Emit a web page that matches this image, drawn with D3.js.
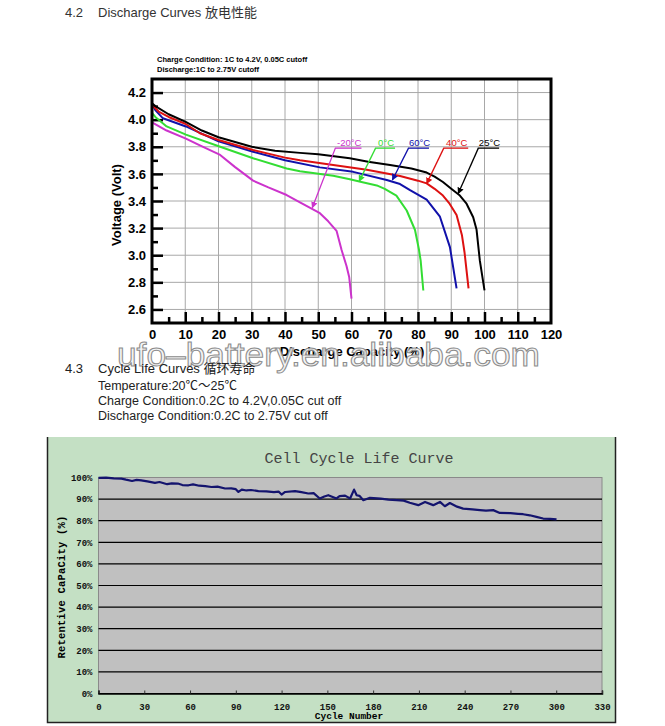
<!DOCTYPE html>
<html>
<head>
<meta charset="utf-8">
<script src="https://d3js.org/d3.v7.min.js"></script>
<style>
  body { margin: 0; background: #fff; }
</style>
</head>
<body>
<div id="viz"></div>
<script>
// ---- discharge curves: [capacity %, voltage V]
var curve25 = [[0,4.12],[1,4.10],[5,4.04],[10,3.985],[15,3.92],[20,3.87],[30,3.80],[37,3.77],[44.5,3.755],[50,3.745],[59.5,3.715],[65,3.69],[71.6,3.665],[78,3.64],[82.6,3.61],[85,3.58],[87.5,3.54],[90,3.49],[92.6,3.44],[94.6,3.38],[96.6,3.28],[97.6,3.19],[98.6,2.96],[100,2.74]];
var curve40 = [[0,4.11],[2,4.06],[5,4.02],[10,3.97],[14.4,3.90],[20,3.85],[30.4,3.776],[40,3.72],[44.5,3.70],[54.5,3.665],[64.6,3.63],[74.6,3.585],[80,3.55],[82.6,3.53],[85,3.49],[87.5,3.44],[89.5,3.38],[91.6,3.296],[93.2,3.15],[94,3.02],[95.2,2.755]];
var curve60 = [[0,4.12],[1,4.07],[3.3,4.01],[10.2,3.95],[20,3.84],[30.4,3.763],[40,3.70],[50.5,3.648],[60.5,3.615],[70.6,3.555],[74.6,3.525],[77.6,3.48],[82.6,3.41],[86.6,3.284],[89.6,3.06],[91.6,2.756]];
var curve0 = [[0,4.05],[1,4.02],[4.4,3.95],[10.2,3.89],[20.5,3.80],[30.4,3.715],[40.5,3.64],[44.5,3.62],[54.5,3.586],[59.5,3.56],[63,3.54],[67.6,3.515],[70,3.49],[73.5,3.44],[76.6,3.33],[79.1,3.186],[80.3,3.04],[80.8,2.96],[81.6,2.74]];
var curveM20 = [[0,3.98],[4.4,3.92],[10.2,3.86],[14.4,3.81],[20.5,3.74],[25,3.65],[30.4,3.55],[35,3.50],[40.5,3.444],[44.5,3.39],[50.5,3.31],[53,3.25],[55.5,3.18],[57,3.04],[58.5,2.92],[59.3,2.84],[60,2.68]];

var tempLabels = ["-20°C", "0°C", "60°C", "40°C", "25°C"];
var tempColors = ["#cc33cc", "#33dd33", "#1111aa", "#dd1111", "#000000"];
var tempCurves = [curveM20, curve0, curve60, curve40, curve25];
// label underline span [x0, x1] and arrow tip [x, y] in data units
var labelSpan = [[55, 63], [67.1, 73.1], [77, 83.3], [87.6, 95.1], [98, 104.4]];
var arrowTip = [[48.2, 3.35], [62.3, 3.545], [72.3, 3.555], [82.6, 3.528], [92.1, 3.455]];
var labelY = 3.79;

var voltTicks = [2.6, 2.8, 3.0, 3.2, 3.4, 3.6, 3.8, 4.0, 4.2];
var capTicks = [0, 10, 20, 30, 40, 50, 60, 70, 80, 90, 100, 110, 120];

// ---- cycle life curve
var cycles = [0,5,10,15,18,22,25,28,32,37,40,45,48,52,55,59,62,66,70,74,78,83,87,90,91.7,93.9,97,100,104.8,110,115,118,120,122.3,128.8,133,137.5,141,145,148,150.6,156,158,161.6,164.9,167.5,169.2,171,173.6,177.9,185,190,195.4,200,204,209.6,214,219.4,223.8,227,230.3,235,239,245,250,254,258.7,263,270,275,278.3,282.7,287,291.4,296,300.2];
var retention = [99.8,99.9,99.6,99.5,99.0,98.4,98.9,98.7,98.2,97.5,97.9,96.9,97.3,97.2,96.5,96.4,96.8,96.2,96.0,95.6,95.8,94.9,95.0,94.6,93.3,94.4,94.0,94.2,93.7,93.6,93.2,93.5,92.1,93.3,93.7,93.2,92.6,92.8,90.3,91.2,91.8,90.3,91.4,91.6,90.3,94.4,91.8,91.5,89.5,90.6,90.2,89.8,89.5,89.3,88.3,87.2,88.7,87.2,88.7,86.7,88.2,86.5,85.6,85.2,84.9,84.7,84.9,83.6,83.5,83.2,83.0,82.5,81.8,81.0,80.8,80.6];
var cycleTicks = [0, 30, 60, 90, 120, 150, 180, 210, 240, 270, 300, 330];
var pctTicks = [0, 10, 20, 30, 40, 50, 60, 70, 80, 90, 100];

var sans = "Liberation Sans, Arial, Noto Sans CJK SC, sans-serif";
var mono = "Liberation Mono, Courier New, monospace";

var svg = d3.select("#viz").append("svg")
    .attr("width", 665)
    .attr("height", 726)
    .attr("font-family", sans);

// headings
svg.append("text").attr("x", 65).attr("y", 17).attr("font-size", 13).attr("fill", "#333")
    .text("4.2");
svg.append("text").attr("x", 98).attr("y", 17).attr("font-size", 13).attr("fill", "#333")
    .text("Discharge Curves 放电性能");
svg.append("text").attr("x", 157).attr("y", 62).attr("font-size", 7.5).attr("font-weight", "bold")
    .text("Charge Condition: 1C to 4.2V, 0.05C cutoff");
svg.append("text").attr("x", 157).attr("y", 72).attr("font-size", 7.5).attr("font-weight", "bold")
    .text("Discharge:1C to 2.75V cutoff");

// ---------- discharge chart
var x = d3.scaleLinear().domain([0, 120]).range([152, 551]);
var y = d3.scaleLinear().domain([2.5, 4.3]).range([323, 79]);

var chart1 = svg.append("g");
var grid = chart1.append("g").attr("stroke", "#a8a8a8").attr("stroke-width", 1);
grid.selectAll("line.v").data(d3.range(10, 120, 10)).enter().append("line")
    .attr("x1", d => x(d)).attr("x2", d => x(d)).attr("y1", y(4.3)).attr("y2", y(2.5));
grid.selectAll("line.h").data(voltTicks).enter().append("line")
    .attr("y1", d => y(d)).attr("y2", d => y(d)).attr("x1", x(0)).attr("x2", x(120));

// left axis, ticks pointing inwards
chart1.append("g").attr("transform", "translate(" + x(0) + ",0)")
    .call(d3.axisLeft(y).tickValues(voltTicks).tickSize(-11).tickPadding(6).tickFormat(d3.format(".1f")));
chart1.append("g").attr("transform", "translate(" + x(0) + ",0)")
    .call(d3.axisLeft(y).tickValues(d3.range(2.7, 4.2, 0.2)).tickSize(-6).tickFormat(""));
chart1.append("g").attr("transform", "translate(0," + y(2.5) + ")")
    .call(d3.axisBottom(x).tickValues(capTicks.slice(1, -1)).tickSize(-11).tickPadding(7));
chart1.append("g").attr("transform", "translate(0," + y(2.5) + ")")
    .call(d3.axisBottom(x).tickValues(d3.range(5, 120, 10)).tickSize(-6).tickFormat(""));
chart1.append("g").attr("transform", "translate(0," + y(2.5) + ")")
    .call(d3.axisBottom(x).tickValues([0, 120]).tickSize(0).tickPadding(7));
chart1.selectAll(".domain").remove();
chart1.selectAll(".tick line").attr("stroke", "#000").attr("stroke-width", 2.5);
chart1.selectAll(".tick text").attr("font-size", 13).attr("font-weight", "bold")
    .attr("font-family", sans).attr("fill", "#000");

// curves
var line = d3.line().x(d => x(d[0])).y(d => y(d[1]));
chart1.append("g").selectAll("path").data(tempCurves).enter().append("path")
    .attr("d", line).attr("fill", "none")
    .attr("stroke", (d, i) => tempColors[i]).attr("stroke-width", 2)
    .attr("stroke-linejoin", "round");

// frame
chart1.append("rect").attr("x", x(0)).attr("y", y(4.3))
    .attr("width", x(120) - x(0)).attr("height", y(2.5) - y(4.3))
    .attr("fill", "none").attr("stroke", "#000").attr("stroke-width", 3);

// labels with arrows
var defs = svg.append("defs");
tempColors.forEach(function (c, i) {
    defs.append("marker").attr("id", "arr" + i).attr("viewBox", "0 0 10 10")
        .attr("refX", 9).attr("refY", 5).attr("markerWidth", 5).attr("markerHeight", 5)
        .attr("orient", "auto")
        .append("path").attr("d", "M0,0L10,5L0,10z").attr("fill", c);
});
var lab = chart1.append("g").selectAll("g").data(tempLabels).enter().append("g");
lab.append("line")
    .attr("x1", (d, i) => x(labelSpan[i][0])).attr("x2", (d, i) => x(labelSpan[i][1]))
    .attr("y1", y(labelY)).attr("y2", y(labelY))
    .attr("stroke", (d, i) => tempColors[i]).attr("stroke-width", 1.3);
lab.append("line")
    .attr("x1", (d, i) => x(labelSpan[i][0]) + 0.5).attr("y1", y(labelY))
    .attr("x2", (d, i) => x(arrowTip[i][0])).attr("y2", (d, i) => y(arrowTip[i][1]))
    .attr("stroke", (d, i) => tempColors[i]).attr("stroke-width", 1.3)
    .attr("marker-end", (d, i) => "url(#arr" + i + ")");
lab.append("text")
    .attr("x", (d, i) => (x(labelSpan[i][0]) + x(labelSpan[i][1])) / 2 + 1)
    .attr("y", y(labelY) - 2.5)
    .attr("text-anchor", "middle").attr("font-size", 9.5)
    .attr("fill", (d, i) => tempColors[i]).text(d => d);

// axis titles
chart1.append("text").attr("transform", "translate(121,205) rotate(-90)")
    .attr("text-anchor", "middle").attr("font-size", 13).attr("font-weight", "bold")
    .text("Voltage (Volt)");
chart1.append("text").attr("x", 352).attr("y", 356)
    .attr("text-anchor", "middle").attr("font-size", 13).attr("font-weight", "bold")
    .text("Discharge Capacity (%)");

// watermark
svg.append("text").attr("x", 117).attr("y", 366)
    .attr("font-size", 33).attr("textLength", 423).attr("lengthAdjust", "spacingAndGlyphs")
    .attr("fill", "#f2f2f2").attr("fill-opacity", 0.85).attr("stroke", "#8c8c8c").attr("stroke-width", 1)
    .text("ufo–battery.en.alibaba.com");

// section 4.3 text
var para = [["4.3", 65, 373, 13], ["Cycle Life Curves 循环寿命", 98, 373, 13],
    ["Temperature:20℃～25℃", 98, 390, 12.5],
    ["Charge Condition:0.2C to 4.2V,0.05C cut off", 98, 405, 12.5],
    ["Discharge Condition:0.2C to 2.75V cut off", 98, 420, 12.5]];
svg.append("g").selectAll("text").data(para).enter().append("text")
    .attr("x", d => d[1]).attr("y", d => d[2]).attr("font-size", d => d[3])
    .attr("fill", "#222").text(d => d[0]);

// ---------- cycle life chart
var panel = svg.append("g").attr("font-family", mono);
panel.append("rect").attr("x", 47).attr("y", 437).attr("width", 569).attr("height", 286)
    .attr("fill", "#c4e0c4");
panel.append("path").attr("d", "M47.5,437V722.5H615.5V437")
    .attr("fill", "none").attr("stroke", "#222").attr("stroke-width", 1.5);

var cx = d3.scaleLinear().domain([0, 330]).range([98.5, 602]);
var cy = d3.scaleLinear().domain([0, 100]).range([693.5, 477.5]);

panel.append("rect").attr("x", cx(0)).attr("y", cy(100))
    .attr("width", cx(330) - cx(0)).attr("height", cy(0) - cy(100))
    .attr("fill", "#c0c0c0").attr("stroke", "#8a8a8a").attr("stroke-width", 1);
panel.append("g").selectAll("line").data(pctTicks.slice(0, -1)).enter().append("line")
    .attr("x1", cx(0)).attr("x2", cx(330)).attr("y1", d => cy(d)).attr("y2", d => cy(d))
    .attr("stroke", "#000").attr("stroke-width", 1.2);

var cxAxis = panel.append("g").attr("transform", "translate(0," + cy(0) + ")")
    .call(d3.axisBottom(cx).tickValues(cycleTicks).tickSize(-3).tickPadding(10));
var cyAxis = panel.append("g").attr("transform", "translate(" + cx(0) + ",0)")
    .call(d3.axisLeft(cy).tickValues(pctTicks).tickSize(0).tickPadding(6).tickFormat(d => d + "%"));
cxAxis.select(".domain").attr("stroke", "#000").attr("stroke-width", 1.5);
cyAxis.select(".domain").remove();
cxAxis.selectAll(".tick line").attr("stroke", "#333");
panel.selectAll(".tick text").attr("font-family", mono)
    .attr("font-weight", "bold").attr("font-size", 9).attr("fill", "#111");

var cline = d3.line().x((d, i) => cx(cycles[i])).y(d => cy(d));
panel.append("path").datum(retention).attr("d", cline).attr("fill", "none")
    .attr("stroke", "#14146e").attr("stroke-width", 2.2).attr("stroke-linejoin", "round");

panel.append("text").attr("x", 359).attr("y", 463).attr("text-anchor", "middle")
    .attr("font-size", 15).attr("fill", "#444")
    .text("Cell Cycle Life Curve");
panel.append("text").attr("x", 349).attr("y", 719).attr("text-anchor", "middle")
    .attr("font-weight", "bold").attr("font-size", 9.5)
    .text("Cycle Number");
panel.append("text").attr("transform", "translate(65,587) rotate(-90)").attr("text-anchor", "middle")
    .attr("font-weight", "bold").attr("font-size", 10.5)
    .attr("letter-spacing", 0.2)
    .text("Retentive CaPaCity (%)");
</script>
</body>
</html>
